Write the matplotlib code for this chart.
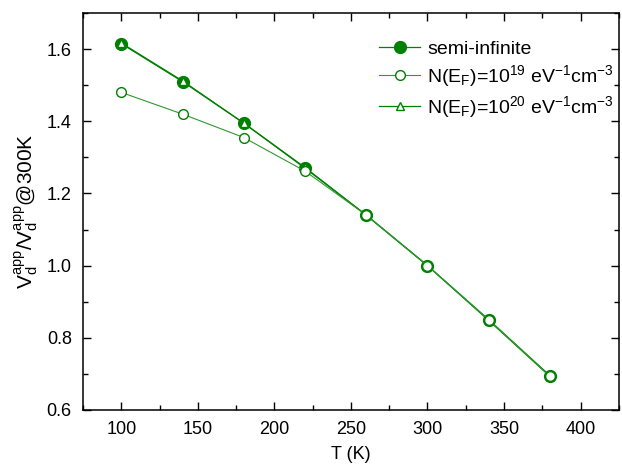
import matplotlib
matplotlib.use("Agg")
import matplotlib.pyplot as plt
from matplotlib.ticker import MultipleLocator

plt.rcParams['font.family'] = ['Liberation Sans', 'DejaVu Sans']
plt.rcParams['mathtext.fontset'] = 'custom'
plt.rcParams['mathtext.rm'] = 'Liberation Sans'
plt.rcParams['mathtext.it'] = 'Liberation Sans:italic'

T = [100, 140, 180, 220, 260, 300, 340, 380]
semi_inf = [1.615, 1.510, 1.395, 1.270, 1.140, 1.000, 0.848, 0.693]
n_e19 = [1.480, 1.420, 1.355, 1.262, 1.140, 1.000, 0.850, 0.693]
n_e20 = [1.617, 1.512, 1.395, 1.272, 1.140, 1.000, 0.850, 0.695]

green = '#008000'

fig = plt.figure(figsize=(6.22, 4.70), dpi=100)
ax = fig.add_axes([0.1334, 0.1277, 0.8616, 0.8446])

l1, = ax.plot(T, semi_inf, '-o', color=green, lw=0.9, ms=8.5,
              mfc=green, mec=green, zorder=3, label='semi-infinite')
l3, = ax.plot(T, n_e20, '-^', color=green, lw=0.9, ms=6,
              mfc='white', mec=green, mew=1.0, zorder=4,
              label=r'N(E$_\mathrm{F}$)=10$^{20}$ eV$^{-1}$cm$^{-3}$')
l2, = ax.plot(T, n_e19, '-o', color='#2e9a2e', lw=0.8, ms=7,
              mfc='white', mec=green, mew=1.0, zorder=5,
              label=r'N(E$_\mathrm{F}$)=10$^{19}$ eV$^{-1}$cm$^{-3}$')

ax.set_xlim(75, 425)
ax.set_ylim(0.6, 1.7)
ax.xaxis.set_major_locator(MultipleLocator(50))
ax.xaxis.set_minor_locator(MultipleLocator(25))
ax.yaxis.set_major_locator(MultipleLocator(0.2))
ax.yaxis.set_minor_locator(MultipleLocator(0.1))
ax.yaxis.set_major_formatter(plt.FormatStrFormatter('%.1f'))
ax.tick_params(which='both', direction='in', top=True, right=True, labelsize=13)
ax.tick_params(which='major', length=6, width=1, pad=8)
ax.tick_params(which='minor', length=3.5, width=1)
for s in ax.spines.values():
    s.set_linewidth(1.1)

ax.set_xlabel('T (K)', fontsize=13, labelpad=6)
ax.set_ylabel(r'V$_\mathrm{d}^\mathrm{app}$/V$_\mathrm{d}^\mathrm{app}$@300K', fontsize=15, labelpad=4)

ax.legend(handles=[l1, l2, l3], loc='upper right', frameon=False, fontsize=14,
          handlelength=2.1, handletextpad=0.35, labelspacing=0.25,
          borderaxespad=0, bbox_to_anchor=(1.005, 0.95))

fig.savefig('out.png', dpi=100)
